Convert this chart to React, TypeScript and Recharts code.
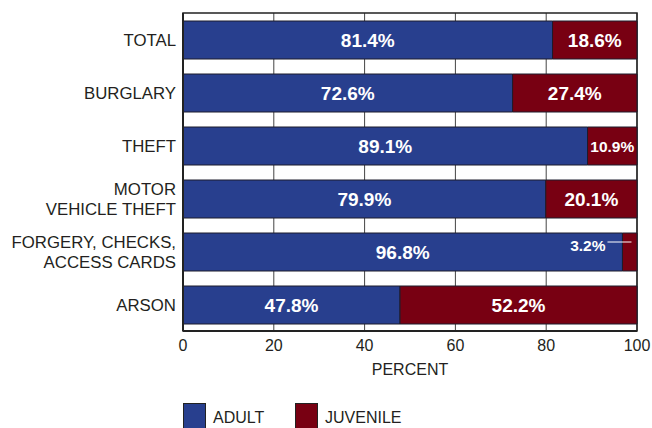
import React from 'react';
import { BarChart, Bar, XAxis, YAxis, CartesianGrid, LabelList, Legend, ReferenceArea } from 'recharts';

const categories = ['TOTAL', 'BURGLARY', 'THEFT', 'MOTOR\nVEHICLE THEFT', 'FORGERY, CHECKS,\nACCESS CARDS', 'ARSON'];
const adultValues = [81.4, 72.6, 89.1, 79.9, 96.8, 47.8];
const juvenileValues = [18.6, 27.4, 10.9, 20.1, 3.2, 52.2];
const xTicks = [0, 20, 40, 60, 80, 100];
const seriesNames = ['ADULT', 'JUVENILE'];

const BLUE = '#283f8e';
const RED = '#780012';
const INK = '#231f20';
const FONT = '"Liberation Sans", Arial, Helvetica, sans-serif';

const data = categories.map((name, i) => ({
  name,
  adult: adultValues[i],
  juvenile: juvenileValues[i],
}));

const YTick = (props: any) => {
  const { x, y, payload } = props;
  const lines = String(payload.value).split('\n');
  const lh = 20;
  const start = y - ((lines.length - 1) * lh) / 2;
  return (
    <g>
      {lines.map((l, i) => (
        <text key={i} x={x} y={start + i * lh} dy={1} textAnchor="end" dominantBaseline="central" fontSize={16.8} fill={INK} fontFamily={FONT}>
          {l}
        </text>
      ))}
    </g>
  );
};

const AdultLabel = (props: any) => {
  const { x, y, width, height, value } = props;
  return (
    <text x={x + width / 2} y={y + height / 2} textAnchor="middle" dominantBaseline="central" fill="#fff" fontWeight="bold" fontSize={19} fontFamily={FONT}>
      {`${Number(value).toFixed(1)}%`}
    </text>
  );
};

const JuvenileLabel = (props: any) => {
  const { x, y, width, height, value } = props;
  const v = Number(value);
  const cy = y + height / 2;
  const txt = `${v.toFixed(1)}%`;
  if (v < 5) {
    return (
      <g>
        <text x={x - 17} y={cy - 7} textAnchor="end" dominantBaseline="central" fill="#fff" fontWeight="bold" fontSize={15.5} fontFamily={FONT}>
          {txt}
        </text>
        <line x1={x - 15} x2={x + 9} y1={cy - 10} y2={cy - 10} stroke="#fff" strokeWidth={1} />
      </g>
    );
  }
  return (
    <text x={x + width / 2} y={cy} textAnchor="middle" dominantBaseline="central" fill="#fff" fontWeight="bold" fontSize={v < 15 ? 15.5 : 19} fontFamily={FONT}>
      {txt}
    </text>
  );
};

const LegendContent = () => (
  <div style={{ display: 'flex', alignItems: 'flex-start', fontFamily: FONT, fontSize: 16, color: INK }}>
    {[BLUE, RED].map((c, i) => (
      <div key={i} style={{ display: 'flex', alignItems: 'flex-start', width: i === 0 ? 112 : 'auto' }}>
        <div style={{ width: 23, height: 26, background: c, border: '1px solid #222', boxSizing: 'border-box', flexShrink: 0 }} />
        <span style={{ marginLeft: 7, lineHeight: '18px', marginTop: 6 }}>{seriesNames[i]}</span>
      </div>
    ))}
  </div>
);

export default function App() {
  return (
    <div style={{ position: 'absolute', left: 0, top: 0, width: 652, height: 428, background: '#fff', fontFamily: FONT }}>
      <BarChart
        width={652}
        height={428}
        data={data}
        layout="vertical"
        margin={{ top: 13, right: 15, bottom: 0, left: 0 }}
        barSize={38}
      >
        <CartesianGrid vertical horizontal={false} stroke="#444" strokeWidth={1} />
        <XAxis
          type="number"
          domain={[0, 100]}
          ticks={xTicks}
          height={97}
          tickSize={0}
          tickMargin={9}
          tickLine={false}
          interval={0}
          axisLine={{ stroke: '#222', strokeWidth: 2 }}
          tick={{ fontSize: 16, fill: INK, fontFamily: FONT }}
          label={{ value: 'PERCENT', position: 'insideTop', offset: 33, fontSize: 16, fill: INK, fontFamily: FONT }}
        />
        <YAxis
          type="category"
          dataKey="name"
          width={183}
          tickSize={0}
          tickMargin={7}
          tickLine={false}
          axisLine={{ stroke: '#222', strokeWidth: 2 }}
          tick={<YTick />}
        />
        <Bar dataKey="adult" stackId="a" fill={BLUE} stroke="#1c1c2c" strokeWidth={1} isAnimationActive={false}>
          <LabelList dataKey="adult" content={<AdultLabel />} />
        </Bar>
        <Bar dataKey="juvenile" stackId="a" fill={RED} stroke="#1c1c2c" strokeWidth={1} isAnimationActive={false}>
          <LabelList dataKey="juvenile" content={<JuvenileLabel />} />
        </Bar>
        <ReferenceArea x1={0} x2={100} fill="none" stroke="#222" strokeWidth={1.5} ifOverflow="visible" />
        <Legend
          layout="horizontal"
          verticalAlign="middle"
          align="center"
          content={<LegendContent />}
          wrapperStyle={{ position: 'absolute', top: 403, left: 183, width: 'auto' }}
        />
      </BarChart>
    </div>
  );
}
